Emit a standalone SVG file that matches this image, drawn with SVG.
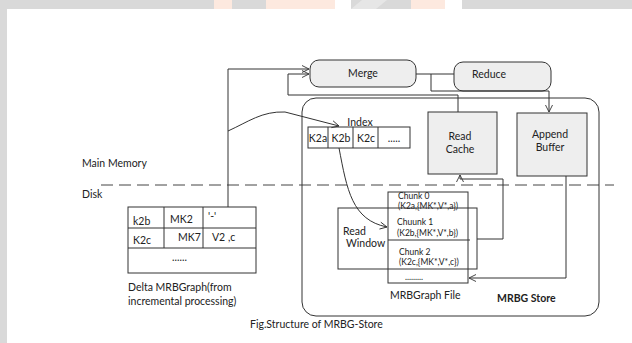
<svg xmlns="http://www.w3.org/2000/svg" width="632" height="343" viewBox="0 0 632 343">
<defs>
<marker id="arr" markerWidth="10" markerHeight="10" refX="8" refY="5" orient="auto" markerUnits="userSpaceOnUse">
<path d="M1,1.5 L8,5 L1,8.5" fill="none" stroke="#333" stroke-width="0.9"/>
</marker>
<style>
text{font-family:Lato,"Open Sans","Liberation Sans",sans-serif;fill:#222;font-size:10.5px}
.sm{font-size:8.5px}
.b{font-weight:bold}
.box{fill:#eeeeee;stroke:#333;stroke-width:1}
.wbox{fill:none;stroke:#333;stroke-width:1}
.ln{fill:none;stroke:#333;stroke-width:1}
</style>
</defs>
<rect x="0" y="0" width="632" height="343" fill="#fff"/>
<rect x="0" y="0" width="632" height="9" fill="#d9d9d9"/>
<rect x="0" y="0" width="7" height="343" fill="#d9d9d9"/>
<rect x="214" y="0" width="18" height="9" fill="#fde9df"/>
<rect x="266" y="0" width="69" height="9" fill="#fde9df"/>
<rect x="335" y="0" width="16" height="9" fill="#fff"/>
<polygon points="351,9 362,0 387,0 376,9" fill="#e6e6e6"/>
<rect x="411" y="0" width="34" height="9" fill="#fde9df"/>
<rect x="445" y="0" width="17" height="9" fill="#fff"/>

<line x1="101" y1="185" x2="614" y2="185" stroke="#444" stroke-width="1" stroke-dasharray="12,6"/>
<text x="82" y="167">Main Memory</text>
<text x="82" y="198">Disk</text>

<g id="store">
<rect x="302" y="98" width="297" height="218" rx="14" ry="14" class="wbox"/>
<text x="497" y="302" class="b">MRBG Store</text>
</g>

<g id="merge">
<rect x="310" y="60" width="106" height="27" rx="9" ry="9" class="box"/>
<text x="363" y="77" text-anchor="middle">Merge</text>
</g>
<g id="reduce">
<rect x="454" y="62" width="97" height="29" rx="9" ry="9" class="box"/>
<text x="489" y="78" text-anchor="middle">Reduce</text>
</g>
<g id="readcache">
<rect x="428" y="112" width="69" height="62" class="box"/>
<text x="460" y="140" text-anchor="middle">Read</text>
<text x="460" y="153" text-anchor="middle">Cache</text>
</g>
<g id="appendbuffer">
<rect x="517" y="113" width="70" height="63" class="box"/>
<text x="550" y="138" text-anchor="middle">Append</text>
<text x="550" y="151" text-anchor="middle">Buffer</text>
</g>

<g id="index">
<text x="360" y="126" text-anchor="middle">Index</text>
<rect x="308" y="127" width="102" height="21" class="wbox"/>
<line x1="328" y1="127" x2="328" y2="148" class="ln"/>
<line x1="353" y1="127" x2="353" y2="148" class="ln"/>
<line x1="378" y1="127" x2="378" y2="148" class="ln"/>
<text x="318" y="142" text-anchor="middle" font-size="9.5">K2a</text>
<text x="341" y="142" text-anchor="middle" font-size="9.5">K2b</text>
<text x="366" y="142" text-anchor="middle" font-size="9.5">K2c</text>
<text x="394" y="142" text-anchor="middle" font-size="9.5">.....</text>
</g>

<g id="mrbgraphfile">
<rect x="388" y="192" width="80" height="91" class="wbox"/>
<line x1="388" y1="240" x2="470" y2="240" class="ln"/>
<text x="398" y="199" class="sm">Chunk 0</text>
<text x="398" y="209" class="sm">(K2a,{MK*,V*,a})</text>
<text x="397" y="225" class="sm">Chuunk 1</text>
<text x="397" y="236" class="sm">(K2b,{MK*,V*,b})</text>
<text x="399" y="255" class="sm">Chunk 2</text>
<text x="399" y="265" class="sm">(K2c,{MK*,V*,c})</text>
<text x="405" y="280" class="sm" font-size="6">.........</text>
<text x="390" y="299">MRBGraph File</text>
</g>

<g id="readwindow">
<rect x="338" y="208" width="139" height="61" class="wbox"/>
<text x="343" y="235">Read</text>
<text x="346" y="247">Window</text>
</g>

<g id="delta">
<rect x="128" y="207" width="128" height="66" class="wbox"/>
<line x1="128" y1="228" x2="256" y2="228" class="ln"/>
<line x1="128" y1="248" x2="256" y2="248" class="ln"/>
<line x1="164" y1="207" x2="164" y2="248" class="ln"/>
<line x1="203" y1="207" x2="203" y2="248" class="ln"/>
<text x="133" y="225" font-size="10">k2b</text>
<text x="170" y="223" font-size="10">MK2</text>
<text x="208" y="220" font-size="10">'-'</text>
<text x="133" y="244" font-size="10">K2c</text>
<text x="178" y="241" font-size="10">MK7</text>
<text x="212" y="241" font-size="10">V2 ,c</text>
<text x="172" y="261" font-size="8">......</text>
<text x="128" y="291">Delta MRBGraph(from</text>
<text x="128" y="305">incremental processing)</text>
</g>

<text x="250" y="328" font-size="10">Fig.Structure of MRBG-Store</text>

<g id="connectors">
<path d="M228,207 V69 H309" class="ln" marker-end="url(#arr)"/>
<path d="M458,112 V95 H288 V74 H309" class="ln" marker-end="url(#arr)"/>
<path d="M416,74 H454" class="ln"/>
<path d="M431,74 V91 H549 V112" class="ln" marker-end="url(#arr)"/>
<path d="M228,131 C248,122 262,111 285,112 L339,126" class="ln" marker-end="url(#arr)"/>
<path d="M339,148 C347,190 352,220 387,227" class="ln" marker-end="url(#arr)"/>
<path d="M477,239 H503 V179 H460 V175" class="ln" marker-end="url(#arr)"/>
<path d="M566,176 V278 H469" class="ln" marker-end="url(#arr)"/>
</g>
</svg>
